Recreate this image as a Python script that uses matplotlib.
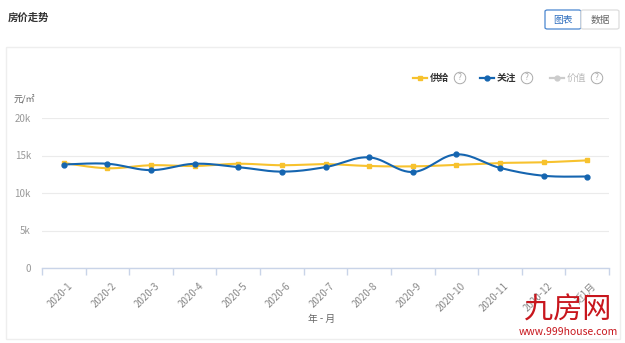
import numpy as np
import matplotlib
matplotlib.use("Agg")
import matplotlib.pyplot as plt
import matplotlib.transforms as mtransforms
from matplotlib.patches import Rectangle, FancyBboxPatch
from matplotlib.lines import Line2D

plt.rcParams['font.family'] = ['Noto Sans CJK SC', 'DejaVu Sans']

months = ['2020-1', '2020-2', '2020-3', '2020-4', '2020-5', '2020-6', '2020-7',
          '2020-8', '2020-9', '2020-10', '2020-11', '2020-12', '近1月']
supply = [14000, 13300, 13700, 13600, 13900, 13700, 13850,
          13600, 13550, 13750, 14000, 14100, 14350]
attention = [13800, 13900, 13050, 13900, 13450, 12850, 13450,
             14750, 12800, 15150, 13350, 12300, 12200]
yticks = [0, 5000, 10000, 15000, 20000]
ytick_labels = ['0', '5k', '10k', '15k', '20k']

W, H = 625, 343
YELLOW = '#f7c22e'
BLUE = '#1565b0'
GRAY = '#999999'


def fx(x):
    return x / W


def fy(y):
    return 1 - y / H


def smooth_line(xs, ys, k=0.18, n=30):
    # bezier through the points
    xs = np.asarray(xs, float)
    ys = np.asarray(ys, float)
    px, py = [], []
    m = len(xs)
    for i in range(m - 1):
        p0 = np.array([xs[i], ys[i]])
        p1 = np.array([xs[i + 1], ys[i + 1]])
        prev = np.array([xs[i - 1], ys[i - 1]]) if i > 0 else p0
        nxt = np.array([xs[i + 2], ys[i + 2]]) if i + 2 < m else p1
        c1 = p0 + (p1 - prev) * k
        c2 = p1 - (nxt - p0) * k
        t = np.linspace(0, 1, n)[:, None]
        pts = ((1 - t) ** 3) * p0 + 3 * ((1 - t) ** 2) * t * c1 + 3 * (1 - t) * t ** 2 * c2 + t ** 3 * p1
        px.extend(pts[:, 0])
        py.extend(pts[:, 1])
    return px, py


fig = plt.figure(figsize=(W / 100, H / 100), dpi=100)

# header
fig.text(fx(8), fy(18), '房价走势', fontsize=7.5, fontweight='bold', color='#333333',
         va='center', ha='left')
fig.patches.append(FancyBboxPatch((fx(545), fy(29)), fx(36), 19 / H,
                                  boxstyle='round,pad=0,rounding_size=0.004',
                                  transform=fig.transFigure, fc='white', ec='#4a86d0', lw=0.9))
fig.patches.append(FancyBboxPatch((fx(581), fy(29)), fx(38), 19 / H,
                                  boxstyle='round,pad=0,rounding_size=0.004',
                                  transform=fig.transFigure, fc='white', ec='#dddddd', lw=0.9))
fig.text(fx(563), fy(19.5), '图表', fontsize=7, color='#2f6fbf', ha='center', va='center')
fig.text(fx(600), fy(19.5), '数据', fontsize=7, color='#666666', ha='center', va='center')

# card
fig.patches.append(Rectangle((fx(6), fy(339)), fx(614), (339 - 47) / H,
                             transform=fig.transFigure, fc='none', ec='#eeeeee', lw=1))

# legend
legend_items = [(420, '供给', YELLOW, 's'), (487, '关注', BLUE, 'o'), (557, '价值', '#cccccc', 'o')]
for lx, lab, col, mk in legend_items:
    fig.lines.append(Line2D([fx(lx - 7), fx(lx + 7)], [fy(78), fy(78)], color=col, lw=1.6,
                            transform=fig.transFigure))
    fig.lines.append(Line2D([fx(lx)], [fy(78)], color=col, marker=mk, ms=3.5,
                            transform=fig.transFigure))
    tc = '#bbbbbb' if lab == '价值' else '#333333'
    fig.text(fx(lx + 10), fy(78), lab, fontsize=7, color=tc, ha='left', va='center',
             fontweight='bold' if lab != '价值' else 'normal')
    fig.text(fx(lx + 40), fy(78), '?', fontsize=6, color='#aaaaaa', ha='center', va='center',
             bbox=dict(boxstyle='circle,pad=0.15', fc='white', ec='#aaaaaa', lw=0.7))

ax = fig.add_axes([fx(42), fy(268), fx(609 - 42), (268 - 118) / H])
x = np.arange(len(months))

sx, sy = smooth_line(x, supply)
ax.plot(sx, sy, color=YELLOW, lw=1.5, zorder=3)
ax.plot(x, supply, ls='none', marker='s', ms=3.5, color=YELLOW, zorder=4)
bx, by = smooth_line(x, attention)
ax.plot(bx, by, color=BLUE, lw=1.5, zorder=3)
ax.plot(x, attention, ls='none', marker='o', ms=3.5, color=BLUE, zorder=5)

ax.set_xlim(-0.5, len(months) - 0.5)
ax.set_ylim(0, 20000)
ax.set_yticks(yticks)
ax.set_yticklabels(ytick_labels)
ax.grid(axis='y', color='#ebebeb', lw=0.8)
ax.set_axisbelow(True)
for s in ['top', 'right', 'left']:
    ax.spines[s].set_visible(False)
ax.spines['bottom'].set_color('#c9d4e8')
ax.spines['bottom'].set_linewidth(1)
ax.tick_params(axis='y', length=0, labelsize=7, labelcolor=GRAY, pad=8)

ax.set_xticks(x)
ax.set_xticklabels(months, rotation=45, ha='right', va='top', rotation_mode='anchor')
ax.tick_params(axis='x', which='major', length=0, labelsize=7, labelcolor='#888888', pad=9)
shift = mtransforms.ScaledTranslation(4 / 100, 0, fig.dpi_scale_trans)
for lbl in ax.get_xticklabels():
    lbl.set_transform(lbl.get_transform() + shift)
ax.set_xticks(np.arange(len(months) + 1) - 0.5, minor=True)
ax.tick_params(axis='x', which='minor', length=5, color='#c9d4e8', width=1)

fig.text(fx(14), fy(100), '元/㎡', fontsize=6.5, color='#666666', ha='left', va='center')
fig.text(fx(322), fy(319), '年 - 月', fontsize=7, color='#666666', ha='center', va='center')

# watermark
fig.text(fx(568), fy(311), '九房网', fontsize=21, color='#c8161d', ha='center', va='center')
fig.text(fx(568), fy(332), 'www.999house.com', fontsize=7.5, color='#c8161d', ha='center',
         va='center')

fig.savefig('out.png', dpi=100)
